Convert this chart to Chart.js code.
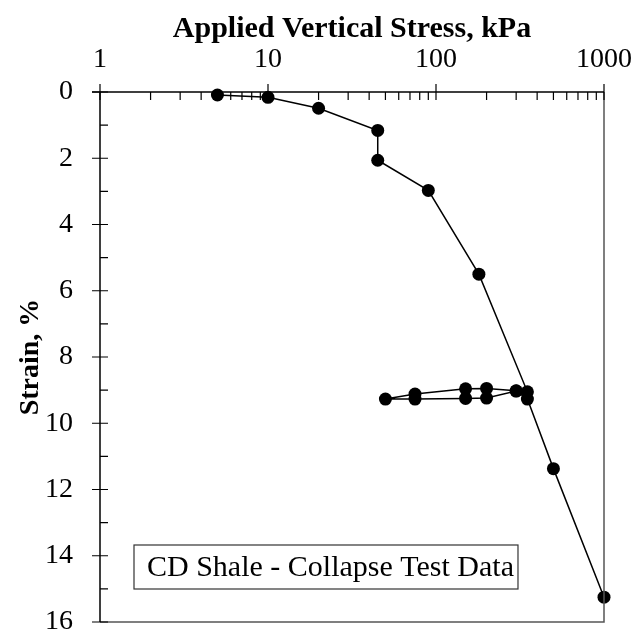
<!DOCTYPE html>
<html>
<head>
<meta charset="utf-8">
<script src="https://cdn.jsdelivr.net/npm/chart.js@4/dist/chart.umd.min.js"></script>
<style>
  html, body { margin: 0; padding: 0; background: #fff; }
  #wrap { width: 635px; height: 635px; }
</style>
</head>
<body>
<div id="wrap"><canvas id="chart" width="635" height="635"></canvas></div>
<script>
// applied vertical stress (kPa) and strain (%) in test order
const stress = [5, 10, 20, 45, 45, 90, 180, 350, 300, 200, 150, 75, 50, 75, 150, 200, 300, 350, 500, 1000];
const strain = [0.09, 0.16, 0.49, 1.16, 2.06, 2.97, 5.5, 9.05, 9.02, 8.95, 8.96, 9.12, 9.27, 9.27, 9.25, 9.24, 9.03, 9.27, 11.37, 15.25];
const xTicks = [1, 10, 100, 1000];
const yTicks = [0, 2, 4, 6, 8, 10, 12, 14, 16];
const seriesName = 'CD Shale - Collapse Test Data';

const FONT = "'Liberation Serif', 'Times New Roman', serif";

const points = stress.map((s, i) => ({ x: s, y: strain[i] }));

// axes lines, ticks and the text box
const framePlugin = {
  id: 'frame',
  afterDatasetsDraw(chart) {
    const { ctx, chartArea: a, scales } = chart;
    const x = scales.x, y = scales.y;
    ctx.save();
    ctx.lineWidth = 1.5;
    // right + bottom border
    ctx.strokeStyle = '#555';
    ctx.beginPath();
    ctx.moveTo(a.right, a.top);
    ctx.lineTo(a.right, a.bottom);
    ctx.lineTo(a.left, a.bottom);
    ctx.stroke();
    // top + left axis
    ctx.strokeStyle = '#000';
    ctx.beginPath();
    ctx.moveTo(a.left - 8, a.top);
    ctx.lineTo(a.right, a.top);
    ctx.moveTo(a.left, a.top);
    ctx.lineTo(a.left, a.bottom);
    ctx.stroke();

    ctx.lineWidth = 1.2;
    ctx.beginPath();
    // x ticks (log)
    for (let d = 1; d <= 1000; d *= 10) {
      for (let m = 1; m < 10; m++) {
        const v = d * m;
        if (v > 1000) break;
        const px = x.getPixelForValue(v);
        if (m === 1) {
          ctx.moveTo(px, a.top - 8);
          ctx.lineTo(px, a.top + 8);
        } else {
          ctx.moveTo(px, a.top);
          ctx.lineTo(px, a.top + 8);
        }
      }
    }
    // y ticks
    for (let v = 0; v <= 16; v++) {
      const py = y.getPixelForValue(v);
      if (v % 2 === 0) {
        ctx.moveTo(a.left - 8, py);
        ctx.lineTo(a.left + 8, py);
      } else {
        ctx.moveTo(a.left, py);
        ctx.lineTo(a.left + 8, py);
      }
    }
    ctx.stroke();

    // text box
    ctx.font = '30px ' + FONT;
    ctx.textBaseline = 'middle';
    ctx.textAlign = 'left';
    const tw = ctx.measureText(seriesName).width;
    const bx = a.left + 34, by = a.bottom - 77, bh = 44;
    ctx.fillStyle = '#fff';
    ctx.fillRect(bx, by, tw + 17, bh);
    ctx.strokeStyle = '#333';
    ctx.lineWidth = 1.2;
    ctx.strokeRect(bx, by, tw + 17, bh);
    ctx.fillStyle = '#000';
    ctx.fillText(seriesName, bx + 13, by + bh / 2 + 1);
    ctx.restore();
  }
};

new Chart(document.getElementById('chart'), {
  type: 'scatter',
  data: {
    datasets: [
      {
        label: seriesName,
        data: points,
        showLine: true,
        borderColor: '#000',
        borderWidth: 1.5,
        backgroundColor: '#000',
        pointRadius: 6.5,
        pointHoverRadius: 6.5,
        pointBorderWidth: 0,
        tension: 0,
        clip: false,
      },
    ],
  },
  options: {
    responsive: false,
    animation: false,
    layout: { padding: { top: 0, left: 0, right: 31, bottom: 13 } },
    plugins: {
      legend: { display: false },
      tooltip: { enabled: false },
    },
    scales: {
      x: {
        type: 'logarithmic',
        position: 'top',
        min: 1,
        max: 1000,
        afterBuildTicks: (scale) => {
          scale.ticks = xTicks.map((v) => ({ value: v }));
        },
        afterFit: (scale) => {
          scale.height = 92;
          scale.paddingLeft = 0;
          scale.paddingRight = 0;
        },
        grid: { display: false, drawTicks: false },
        border: { display: false },
        ticks: {
          autoSkip: false,
          maxRotation: 0,
          padding: 16,
          color: '#000',
          font: { family: FONT, size: 28 },
          callback: (v) => String(v),
        },
        title: {
          display: true,
          text: 'Applied Vertical Stress, kPa',
          color: '#000',
          font: { family: FONT, size: 30, weight: 'bold' },
          padding: { top: 11, bottom: 0 },
        },
      },
      y: {
        type: 'linear',
        reverse: true,
        min: 0,
        max: 16,
        afterBuildTicks: (scale) => {
          scale.ticks = yTicks.map((v) => ({ value: v }));
        },
        afterFit: (scale) => {
          scale.width = 100;
          scale.paddingTop = 0;
          scale.paddingBottom = 0;
        },
        grid: { display: false, drawTicks: false },
        border: { display: false },
        ticks: {
          autoSkip: false,
          padding: 27,
          color: '#000',
          font: { family: FONT, size: 28 },
        },
        title: {
          display: true,
          text: 'Strain, %',
          color: '#000',
          font: { family: FONT, size: 28, weight: 'bold' },
          padding: { top: 14, bottom: 0 },
        },
      },
    },
  },
  plugins: [framePlugin],
});
</script>
</body>
</html>
